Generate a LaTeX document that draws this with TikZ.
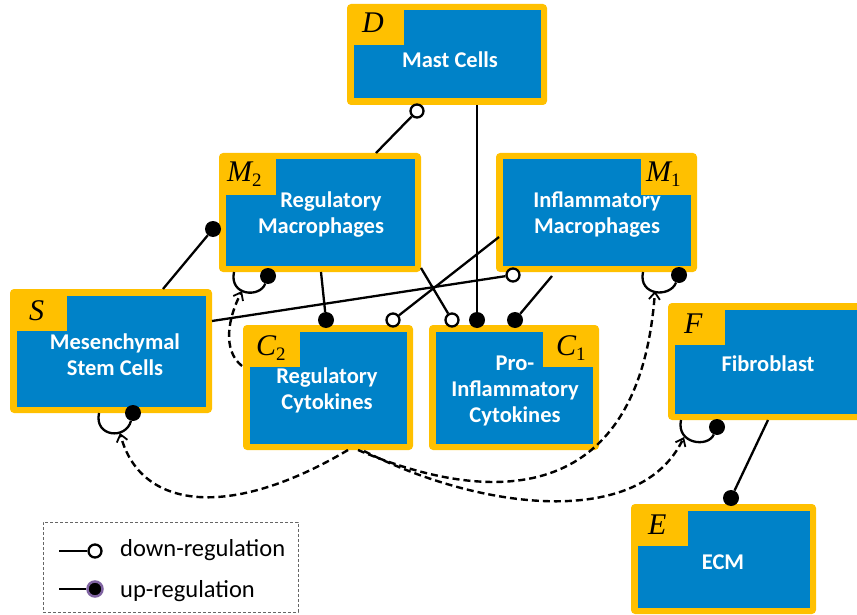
\documentclass[tikz,border=0pt]{standalone}
\usepackage{fontspec}
\setmainfont{Carlito}
\newfontfamily\labfont{Liberation Serif}
\usetikzlibrary{arrows.meta}
\definecolor{cellyellow}{RGB}{255,192,0}
\definecolor{cellblue}{RGB}{0,130,200}
\definecolor{legpurple}{RGB}{128,100,162}
\tikzset{
  outerbox/.style={fill=cellyellow, rounded corners=4pt, inner sep=0pt, outer sep=0pt},
  celltext/.style={text=white, font=\fontsize{22.5}{26}\selectfont\bfseries, align=center, inner sep=0pt},
  labeltext/.style={font=\fontsize{30}{30}\selectfont\labfont\itshape, inner sep=0pt, anchor=base west},
  link/.style={line width=2.3pt},
  updot/.style={circle, fill=black, minimum size=16pt, inner sep=0pt},
  downdot/.style={circle, draw=black, fill=white, line width=2.3pt, minimum size=13pt, inner sep=0pt},
  regarrow/.style={line width=2.4pt, dash pattern=on 7pt off 4pt, -{Straight Barb[length=7pt,width=11pt,line width=1.8pt]}},
  legtext/.style={font=\fontsize{24.5}{26}\selectfont, anchor=west, inner sep=0pt},
}
\newcommand\cellbox[5]{%
  \node[outerbox, minimum width={(#4-#2)*1pt}, minimum height={(#5-#3)*1pt}] (#1) at ({(#2+#4)/2},{(#3+#5)/2}) {};
  \fill[cellblue] ([shift={(6.5,6.5)}]#1.north west) rectangle ([shift={(-6.5,-6.5)}]#1.south east);
}
\newcommand\tabTL[1]{\fill[cellyellow] ([shift={(6.5,6.5)}]#1.north west) rectangle +(50,35);}
\newcommand\tabTR[1]{\fill[cellyellow] ([shift={(-6.5,6.5)}]#1.north east) rectangle +(-50,35);}
\newcommand\subs[1]{\raisebox{-5pt}{\fontsize{19}{19}\selectfont\upshape #1}}
\begin{document}
\begin{tikzpicture}[x=1pt,y=-1pt]
\useasboundingbox (0,0) rectangle (857,615);
\clip (0,0) rectangle (857,615);

% boxes
\cellbox{mast}{347}{4}{547}{105}\tabTL{mast}
\cellbox{mtwo}{219}{153}{421}{272}\tabTL{mtwo}
\cellbox{mone}{496}{153}{697}{272}\tabTR{mone}
\cellbox{msc}{10}{289}{212}{413}\tabTL{msc}
\cellbox{ctwo}{243}{325}{413}{450}\tabTL{ctwo}
\cellbox{cone}{429}{325}{599}{450}\tabTR{cone}
\cellbox{fib}{668}{303}{872}{420}\tabTL{fib}
\cellbox{ecm}{631}{504}{816}{614}\tabTL{ecm}

% labels
\node[labeltext] (lD) at (362,33) {D};
\node[labeltext] (lM2) at (227,182) {M\subs{2}};
\node[labeltext] (lM1) at (646,182) {M\subs{1}};
\node[labeltext] (lS) at (29,320) {S};
\node[labeltext] (lC2) at (256,355) {C\subs{2}};
\node[labeltext] (lC1) at (556,355) {C\subs{1}};
\node[labeltext] (lF) at (684,333) {F};
\node[labeltext] (lE) at (648,534) {E};

% texts
\node[celltext] (tD) at (450,60) {Mast Cells};
\node[celltext] (tM2) at (321,215) {\hspace*{20pt}Regulatory\\Macrophages};
\node[celltext] (tM1) at (597,215) {Inflammatory\\Macrophages};
\node[celltext] (tS) at (115,355) {Mesenchymal\\Stem Cells};
\node[celltext] (tC2) at (327,390) {Regulatory\\Cytokines};
\node[celltext] (tC1) at (515,391) {Pro-\\Inflammatory\\Cytokines};
\node[celltext] (tF) at (768,364) {Fibroblast};
\node[celltext] (tE) at (723,562) {ECM};

% connection points
\coordinate (pM2D) at (376,153);
\coordinate (pDC1) at (477,105);
\coordinate (pSM2) at (163,289);
\coordinate (pM2C2) at (321,272);
\coordinate (pM2C1) at (421,268);
\coordinate (pM1C2) at (499,237);
\coordinate (pM1C1) at (552,276);
\coordinate (pSM1) at (212,321);
\coordinate (pFE) at (768,420);
\coordinate (lpM2) at (234,272);
\coordinate (lpM1) at (643,272);
\coordinate (lpS) at (99,413);
\coordinate (lpF) at (681,420);

% dots
\node[downdot] (dM2D) at (417,111) {};
\node[updot] (dDC1) at (477,320) {};
\node[updot] (dSM2) at (213,229) {};
\node[updot] (dM2C2) at (326,320) {};
\node[downdot] (dM2C1) at (452,320) {};
\node[downdot] (dM1C2) at (393,320) {};
\node[updot] (dM1C1) at (515,320) {};
\node[downdot] (dSM1) at (513,275) {};
\node[updot] (dFE) at (731,498) {};
\node[updot] (dlM2) at (268,276) {};
\node[updot] (dlM1) at (679,275) {};
\node[updot] (dlS) at (133,413) {};
\node[updot] (dlF) at (717,427) {};

% regulation links
\draw[link] (pM2D) -- (dM2D);
\draw[link] (pDC1) -- (dDC1);
\draw[link] (pSM2) -- (dSM2);
\draw[link] (pM2C2) -- (dM2C2);
\draw[link] (pM2C1) -- (dM2C1);
\draw[link] (pM1C2) -- (dM1C2);
\draw[link] (pM1C1) -- (dM1C1);
\draw[link] (pSM1) -- (dSM1);
\draw[link] (pFE) -- (dFE);

% self loops
\draw[link] (lpM2) .. controls (229,296) and (260,298) .. (dlM2);
\draw[link] (lpM1) .. controls (638,296) and (670,298) .. (dlM1);
\draw[link] (lpS) .. controls (94,437) and (126,440) .. (dlS);
\draw[link] (lpF) .. controls (676,444) and (708,448) .. (dlF);

% cytokine effects (dashed)
\coordinate (aM2) at (242,291);
\coordinate (aS) at (120,433);
\coordinate (aM1) at (655,291);
\coordinate (aF) at (684,437);
\coordinate (sC2a) at (242,366);
\coordinate (sC2b) at (348,450);
\coordinate (sC2c) at (358,450);
\coordinate (sC2d) at (364,451);
\draw[regarrow] (sC2a) .. controls (222,350) and (228,318) .. (aM2);
\draw[regarrow] (sC2b) .. controls (230,520) and (140,510) .. (aS);
\draw[regarrow] (sC2c) .. controls (500,510) and (640,500) .. (aM1);
\draw[regarrow] (sC2d) .. controls (480,510) and (640,530) .. (aF);

% legend
\node[draw=gray!80!black, dash pattern=on 3pt off 2pt, line width=0.8pt, minimum width=255pt, minimum height=90pt, inner sep=0pt] (legend) at (170.5,567) {};
\coordinate (lg1) at (59,551);
\coordinate (lg2) at (59,589);
\node[downdot] (lgd1) at (95,551) {};
\node[circle, fill=black, draw=legpurple, line width=2.5pt, minimum size=15pt, inner sep=0pt] (lgd2) at (95,589) {};
\draw[link] (lg1) -- (lgd1);
\draw[link] (lg2) -- (lgd2);
\node[legtext] (lgt1) at (120,550) {down-regulation};
\node[legtext] (lgt2) at (120,591) {up-regulation};
\end{tikzpicture}
\end{document}
